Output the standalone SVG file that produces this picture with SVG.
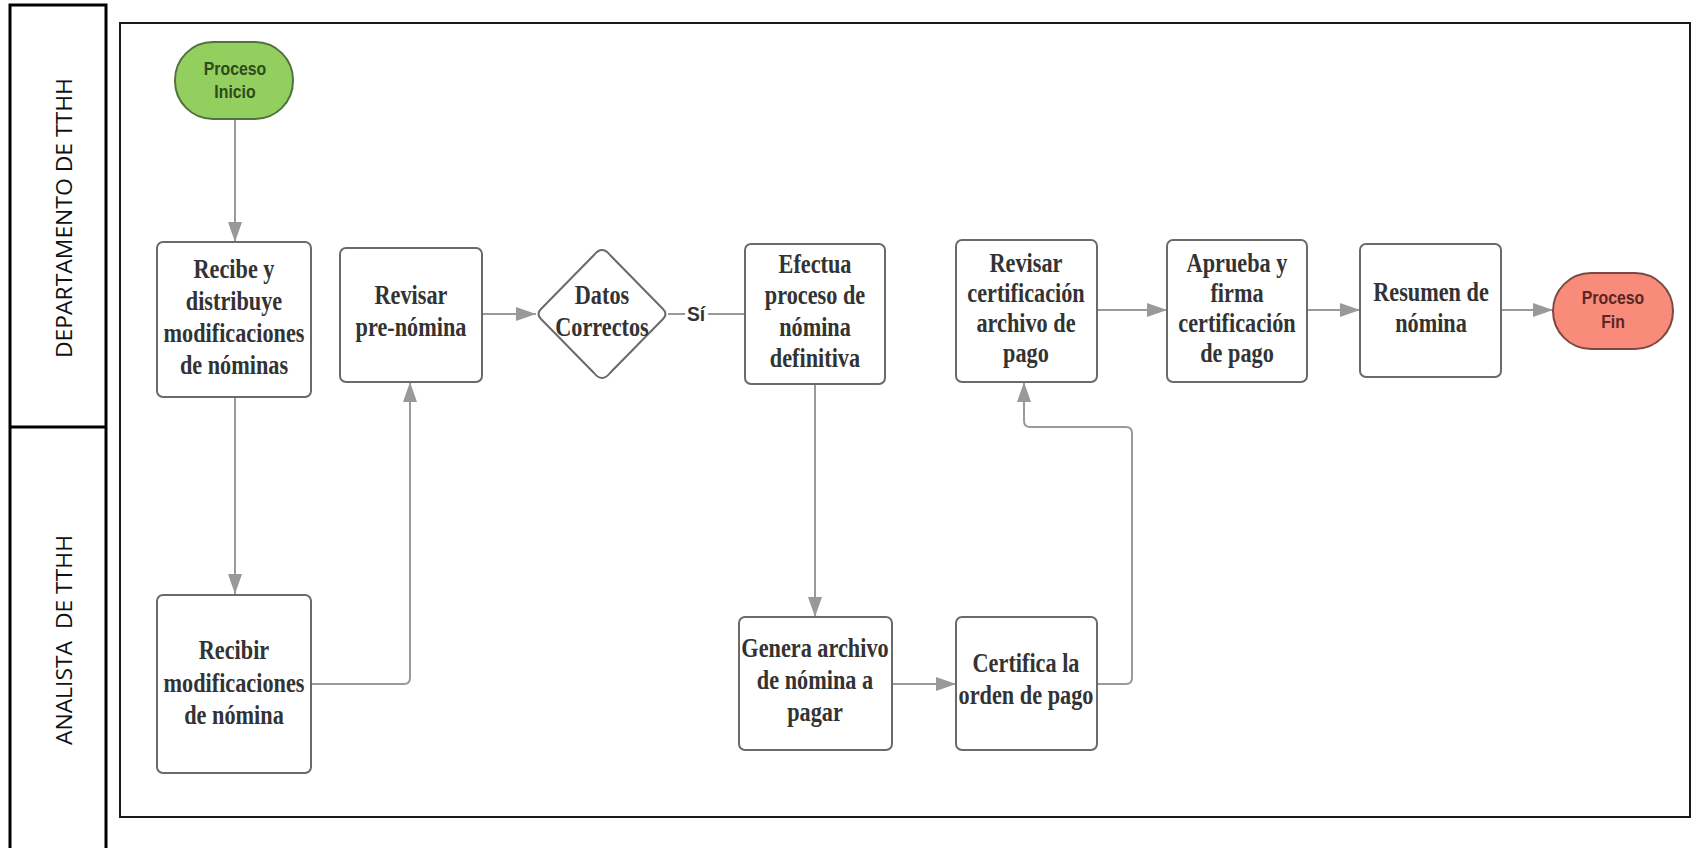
<svg xmlns="http://www.w3.org/2000/svg" width="1693" height="848" viewBox="0 0 1693 848">
<style>
.lane{fill:none;stroke:#000;stroke-width:3}
.frame{fill:none;stroke:#1a1a1a;stroke-width:2}
.lt{font-family:"Open Sans","Liberation Sans",sans-serif;font-size:22px;fill:#111;text-anchor:middle}
.box{fill:#fff;stroke:#6a6a6a;stroke-width:2}
.t{font-family:"Liberation Serif","Times New Roman",serif;font-weight:bold;font-size:26.5px;fill:#333;text-anchor:middle}
.pt{font-family:"Liberation Sans",Arial,sans-serif;font-weight:bold;font-size:18px;text-anchor:middle}
.c{fill:none;stroke:#9a9a9a;stroke-width:2}
.si{font-family:"Liberation Sans",Arial,sans-serif;font-weight:bold;font-size:21px;fill:#333;text-anchor:middle}
</style>
<defs>
<marker id="ah" viewBox="0 0 20 14" refX="20" refY="7" markerWidth="20" markerHeight="14" markerUnits="userSpaceOnUse" orient="auto">
<path d="M0,0 L20,7 L0,14 Z" fill="#999"/>
</marker>
</defs>
<rect width="1693" height="848" fill="#fff"/>
<g id="lanes">
<rect class="lane" x="10" y="5" width="96" height="870"/>
<line class="lane" x1="10" y1="427" x2="106" y2="427"/>
<text class="lt" transform="translate(72,218) rotate(-90)" textLength="280" lengthAdjust="spacingAndGlyphs">DEPARTAMENTO DE TTHH</text>
<text class="lt" transform="translate(72,640) rotate(-90)" textLength="210" lengthAdjust="spacingAndGlyphs" xml:space="preserve">ANALISTA  DE TTHH</text>
</g>
<rect id="frame" class="frame" x="120" y="23" width="1570" height="794"/>
<g id="connectors">
<path class="c" d="M235,119 V242" marker-end="url(#ah)"/>
<path class="c" d="M235,397 V594" marker-end="url(#ah)"/>
<path class="c" d="M311,684 H404 Q410,684 410,678 V382" marker-end="url(#ah)"/>
<path class="c" d="M482,314 H536" marker-end="url(#ah)"/>
<path class="c" d="M668,314 H685"/>
<path class="c" d="M708,314 H745"/>
<text class="si" transform="translate(696,321) scale(0.92,1)">Sí</text>
<path class="c" d="M815,384 V617" marker-end="url(#ah)"/>
<path class="c" d="M892,684 H956" marker-end="url(#ah)"/>
<path class="c" d="M1097,684 H1126 Q1132,684 1132,678 V433 Q1132,427 1126,427 H1030 Q1024,427 1024,421 V382" marker-end="url(#ah)"/>
<path class="c" d="M1097,310 H1167" marker-end="url(#ah)"/>
<path class="c" d="M1307,310 H1360" marker-end="url(#ah)"/>
<path class="c" d="M1501,310 H1553" marker-end="url(#ah)"/>
</g>
<g id="start">
<rect x="175" y="42" width="118" height="77" rx="38" fill="#93cf5f" stroke="#50733a" stroke-width="2"/>
<text class="pt" fill="#2f4a1c" transform="translate(235,0) scale(0.88,1)"><tspan x="0" y="75">Proceso</tspan><tspan x="0" y="98">Inicio</tspan></text>
</g>
<g id="recibe">
<rect class="box" x="157" y="242" width="154" height="155" rx="6"/>
<text class="t" transform="translate(234,0) scale(0.84,1)"><tspan x="0" y="278">Recibe y</tspan><tspan x="0" y="310">distribuye</tspan><tspan x="0" y="342">modificaciones</tspan><tspan x="0" y="374">de nóminas</tspan></text>
</g>
<g id="recibir">
<rect class="box" x="157" y="595" width="154" height="178" rx="6"/>
<text class="t" transform="translate(234,0) scale(0.84,1)"><tspan x="0" y="659">Recibir</tspan><tspan x="0" y="692">modificaciones</tspan><tspan x="0" y="724">de nómina</tspan></text>
</g>
<g id="revisar-pre">
<rect class="box" x="340" y="248" width="142" height="134" rx="6"/>
<text class="t" transform="translate(411,0) scale(0.84,1)"><tspan x="0" y="304">Revisar</tspan><tspan x="0" y="336">pre-nómina</tspan></text>
</g>
<g id="datos">
<path class="box" d="M602,250 Q606,250 610,255 L663,309 Q668,314 663,319 L610,373 Q606,378 602,378 Q598,378 594,373 L541,319 Q536,314 541,309 L594,255 Q598,250 602,250 Z"/>
<text class="t" transform="translate(602,0) scale(0.84,1)"><tspan x="0" y="304">Datos</tspan><tspan x="0" y="336">Correctos</tspan></text>
</g>
<g id="efectua">
<rect class="box" x="745" y="244" width="140" height="140" rx="6"/>
<text class="t" transform="translate(815,0) scale(0.84,1)"><tspan x="0" y="273">Efectua</tspan><tspan x="0" y="304">proceso de</tspan><tspan x="0" y="336">nómina</tspan><tspan x="0" y="367">definitiva</tspan></text>
</g>
<g id="genera">
<rect class="box" x="739" y="617" width="153" height="133" rx="6"/>
<text class="t" transform="translate(815,0) scale(0.84,1)"><tspan x="0" y="657">Genera archivo</tspan><tspan x="0" y="689">de nómina a</tspan><tspan x="0" y="721">pagar</tspan></text>
</g>
<g id="certifica">
<rect class="box" x="956" y="617" width="141" height="133" rx="6"/>
<text class="t" transform="translate(1026,0) scale(0.84,1)"><tspan x="0" y="672">Certifica la</tspan><tspan x="0" y="704">orden de pago</tspan></text>
</g>
<g id="revisar-cert">
<rect class="box" x="956" y="240" width="141" height="142" rx="6"/>
<text class="t" transform="translate(1026,0) scale(0.84,1)"><tspan x="0" y="272">Revisar</tspan><tspan x="0" y="302">certificación</tspan><tspan x="0" y="332">archivo de</tspan><tspan x="0" y="362">pago</tspan></text>
</g>
<g id="aprueba">
<rect class="box" x="1167" y="240" width="140" height="142" rx="6"/>
<text class="t" transform="translate(1237,0) scale(0.84,1)"><tspan x="0" y="272">Aprueba y</tspan><tspan x="0" y="302">firma</tspan><tspan x="0" y="332">certificación</tspan><tspan x="0" y="362">de pago</tspan></text>
</g>
<g id="resumen">
<rect class="box" x="1360" y="244" width="141" height="133" rx="6"/>
<text class="t" transform="translate(1431,0) scale(0.84,1)"><tspan x="0" y="301">Resumen de</tspan><tspan x="0" y="332">nómina</tspan></text>
</g>
<g id="fin">
<rect x="1553" y="273" width="120" height="76" rx="38" fill="#f98b7b" stroke="#7a4a42" stroke-width="2"/>
<text class="pt" fill="#5a2626" transform="translate(1613,0) scale(0.88,1)"><tspan x="0" y="304">Proceso</tspan><tspan x="0" y="328">Fin</tspan></text>
</g>
</svg>
